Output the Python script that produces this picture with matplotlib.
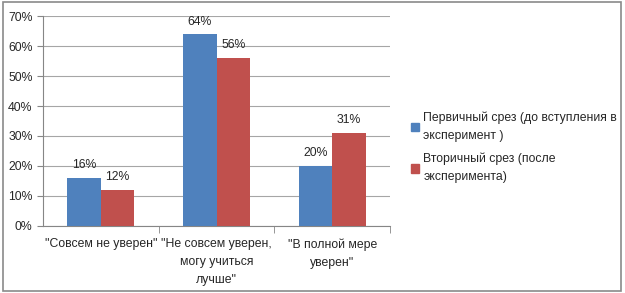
import numpy as np
import matplotlib
matplotlib.use('Agg')
import matplotlib.pyplot as plt
import matplotlib.patches as mpatches
from matplotlib.ticker import MultipleLocator, FuncFormatter

plt.rcParams['font.family'] = ['Liberation Sans', 'DejaVu Sans']

categories = ['"Совсем не уверен"',
              '"Не совсем уверен,\nмогу учиться\nлучше"',
              '"В полной мере\nуверен"']
first_cut = [16, 64, 20]
second_cut = [12, 56, 31]
series_names = ['Первичный срез (до вступления в\nэксперимент )',
                'Вторичный срез (после\nэксперимента)']
colors = ['#4F81BD', '#C0504D']
fs = 8.8

fig = plt.figure(figsize=(6.25, 2.93), dpi=100)
fig.patch.set_facecolor('white')

# outer frame of the chart
frame = mpatches.Rectangle((0.004, 0.008), 0.99, 0.985, transform=fig.transFigure,
                           fill=False, edgecolor='#8a8a8a', linewidth=1.2)
fig.patches.append(frame)

ax = fig.add_axes([0.069, 0.229, 0.555, 0.716])

x = np.arange(len(categories))
w = 0.29
b1 = ax.bar(x - w/2, first_cut, w, color=colors[0], zorder=3)
b2 = ax.bar(x + w/2, second_cut, w, color=colors[1], zorder=3)

for bars in (b1, b2):
    for r in bars:
        ax.text(r.get_x() + r.get_width()/2, r.get_height() + 2.2, f'{int(r.get_height())}%',
                ha='center', va='bottom', fontsize=fs, color='#262626')

ax.set_xlim(-0.5, 2.5)
ax.set_ylim(0, 70)
ax.yaxis.set_major_locator(MultipleLocator(10))
ax.yaxis.set_major_formatter(FuncFormatter(lambda v, p: f'{int(v)}%'))
ax.grid(axis='y', color='#a6a6a6', linewidth=0.8, zorder=0)

for s in ['top', 'right']:
    ax.spines[s].set_visible(False)
ax.spines['left'].set_color('#868686')
ax.spines['bottom'].set_color('#868686')

ax.set_xticks(x)
ax.set_xticklabels(categories, fontsize=fs, color='#262626', linespacing=1.65)
ax.tick_params(axis='x', length=0, pad=9)
ax.set_xticks([0.5, 1.5, 2.5], minor=True)
ax.tick_params(axis='x', which='minor', length=5, color='#868686')
ax.tick_params(axis='y', labelsize=fs, labelcolor='#262626', length=4, color='#868686')
for t in ax.get_xticklabels():
    t.set_verticalalignment('top')

handles = [mpatches.Patch(color=c, label=n) for c, n in zip(colors, series_names)]
leg = fig.legend(handles=handles, loc='center left', bbox_to_anchor=(0.657, 0.497),
                 frameon=False, fontsize=fs, handlelength=0.7, handleheight=0.7,
                 handletextpad=0.35, labelspacing=0.9, labelcolor='#262626',
                 borderpad=0, borderaxespad=0)
for t in leg.get_texts():
    t.set_linespacing(1.65)

fig.savefig('out.png', dpi=100)
